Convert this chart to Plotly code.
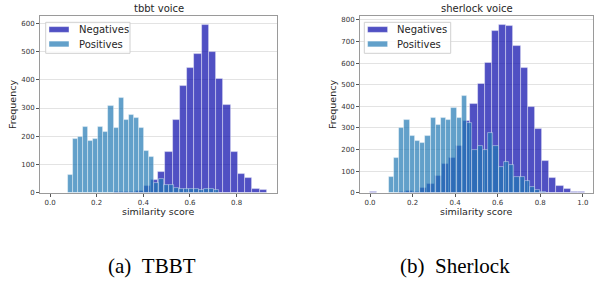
import plotly.graph_objects as go

# ---------------- data (histogram bins) ----------------
tbbt_neg_start = 0.012
tbbt_neg_width = 0.0311
tbbt_neg_counts = [0, 0, 0, 0, 0, 0, 0, 0, 0, 1, 2, 3, 5, 25, 45, 74, 143, 257, 377,
                   442, 493, 594, 499, 403, 310, 144, 68, 53, 12, 9]
tbbt_pos_start = 0.0886
tbbt_pos_width = 0.0216
tbbt_pos_counts = [63, 190, 197, 233, 183, 190, 233, 216, 307, 231, 336, 258, 274, 265,
                   231, 148, 125, 33, 47, 27, 27, 15, 14, 13, 13, 12, 10, 13, 13, 10]

sher_neg_start = 0.017
sher_neg_width = 0.0337
sher_neg_counts = [5, 0, 0, 0, 2, 7, 5, 20, 38, 78, 133, 161, 216, 332, 410, 505, 600,
                   748, 778, 773, 680, 575, 398, 295, 148, 68, 30, 19, 5, 3]
sher_pos_start = 0.100
sher_pos_width = 0.0246
sher_pos_counts = [71, 161, 298, 337, 262, 239, 232, 262, 344, 313, 344, 337, 392, 344,
                   447, 325, 198, 216, 198, 277, 216, 120, 144, 128, 71, 74, 56, 25, 12, 3]

x_ticks_tbbt = [0.0, 0.2, 0.4, 0.6, 0.8]
x_ticks_sher = [0.0, 0.2, 0.4, 0.6, 0.8, 1.0]
y_ticks_tbbt = [0, 100, 200, 300, 400, 500, 600]
y_ticks_sher = [0, 100, 200, 300, 400, 500, 600, 700, 800]

series_names = ["Negatives", "Positives"]
titles = ["tbbt voice", "sherlock voice"]
captions = ["(a)\u00a0\u00a0TBBT", "(b)\u00a0\u00a0Sherlock"]

# ---------------- styling ----------------
W, H = 594, 284
NEG_COLOR = "rgb(5,5,170)"
POS_COLOR = "rgb(31,119,180)"
ALPHA = 0.7
EDGE = "rgba(255,255,255,0.5)"
FONT = "DejaVu Sans"
TXT = "#262626"


def centers(start, width, n):
    return [start + i * width for i in range(n)]


def rgba(rgb, a):
    return rgb.replace("rgb(", "rgba(").replace(")", f",{a})")


fig = go.Figure()

panels = [
    dict(xa="x", ya="y", xaxis="xaxis", yaxis="yaxis",
         neg=(tbbt_neg_start, tbbt_neg_width, tbbt_neg_counts),
         pos=(tbbt_pos_start, tbbt_pos_width, tbbt_pos_counts),
         px=(40, 277), xr=[-0.043, 0.973], yr=[0, 626],
         xt=x_ticks_tbbt, yt=y_ticks_tbbt, leg=(45.7, 130)),
    dict(xa="x2", ya="y2", xaxis="xaxis2", yaxis="yaxis2",
         neg=(sher_neg_start, sher_neg_width, sher_neg_counts),
         pos=(sher_pos_start, sher_pos_width, sher_pos_counts),
         px=(360, 593), xr=[-0.047, 1.048], yr=[0, 818],
         xt=x_ticks_sher, yt=y_ticks_sher, leg=(364.3, 450.7)),
]

top_px, bot_px = 16, 192.7
ydom = [1 - bot_px / H, 1 - top_px / H]


def py(v):
    return 1 - v / H


annotations = []
shapes = []
for i, p in enumerate(panels):
    for name, (s, w, c), col in ((series_names[0], p["neg"], NEG_COLOR),
                                 (series_names[1], p["pos"], POS_COLOR)):
        fig.add_trace(go.Bar(
            x=centers(s, w, len(c)), y=c, width=w, name=name,
            xaxis=p["xa"], yaxis=p["ya"], showlegend=False,
            marker=dict(color=rgba(col, ALPHA), line=dict(color=EDGE, width=0.8)),
        ))
    x0, x1 = p["px"]
    common = dict(showline=True, mirror=True, linecolor="#9a9a9a", linewidth=1,
                  ticks="outside", ticklen=3, tickcolor="#555", zeroline=False,
                  automargin=False,
                  tickfont=dict(family=FONT, size=7, color="#333"))
    fig.update_layout(**{
        p["xaxis"]: dict(domain=[x0 / W, x1 / W], range=p["xr"], anchor=p["ya"],
                         tickvals=p["xt"], ticktext=[f"{v:.1f}" for v in p["xt"]],
                         showgrid=False, **common),
        p["yaxis"]: dict(domain=ydom, range=p["yr"], anchor=p["xa"],
                         tickvals=p["yt"], showgrid=True, gridcolor="#e3e3e3",
                         gridwidth=1, **common),
    })
    cx = (x0 + x1) / 2 / W
    annotations += [
        dict(text=titles[i], x=cx, y=py(9), xref="paper", yref="paper",
             xanchor="center", yanchor="middle", showarrow=False,
             font=dict(family=FONT, size=10, color=TXT)),
        dict(text="similarity score", x=cx, y=py(211), xref="paper", yref="paper",
             xanchor="center", yanchor="middle", showarrow=False,
             font=dict(family=FONT, size=9.5, color=TXT)),
        dict(text="Frequency", x=(x0 - 27.5) / W, y=py(104.5), xref="paper",
             yref="paper", xanchor="center", yanchor="middle", showarrow=False,
             textangle=-90, font=dict(family=FONT, size=9.5, color=TXT)),
    ]
    # legend (box, swatches, labels)
    lx0, lx1 = p["leg"]
    shapes.append(dict(type="rect", xref="paper", yref="paper",
                       x0=lx0 / W, x1=lx1 / W, y0=py(53.3), y1=py(22.3),
                       line=dict(color="#d0d0d0", width=1),
                       fillcolor="rgba(255,255,255,0.85)", layer="above"))
    for j, (col, yc) in enumerate(((NEG_COLOR, 29.5), (POS_COLOR, 44))):
        shapes.append(dict(type="rect", xref="paper", yref="paper",
                           x0=(lx0 + 3.3) / W, x1=(lx0 + 23.3) / W,
                           y0=py(yc + 2.9), y1=py(yc - 2.9),
                           line=dict(color=EDGE, width=0.8),
                           fillcolor=rgba(col, ALPHA), layer="above"))
        annotations.append(dict(text=series_names[j], x=(lx0 + 31) / W, y=py(yc),
                                xref="paper", yref="paper", xanchor="left",
                                yanchor="middle", showarrow=False,
                                font=dict(family=FONT, size=10, color=TXT)))

annotations += [
    dict(text=captions[0], x=152 / W, y=py(266), xref="paper", yref="paper",
         xanchor="center", yanchor="middle", showarrow=False,
         font=dict(family="Liberation Serif", size=21, color="#000")),
    dict(text=captions[1], x=455 / W, y=py(266), xref="paper", yref="paper",
         xanchor="center", yanchor="middle", showarrow=False,
         font=dict(family="Liberation Serif", size=21, color="#000")),
]

fig.update_layout(
    template="none",
    width=W, height=H, margin=dict(l=0, r=0, t=0, b=0, pad=0),
    paper_bgcolor="white", plot_bgcolor="white",
    barmode="overlay", bargap=0, showlegend=False,
    annotations=annotations, shapes=shapes,
)

fig.write_html(
    "out.html",
    config={"displayModeBar": False},
    post_script="document.body.style.margin='0px';document.body.style.overflow='hidden';",
)
